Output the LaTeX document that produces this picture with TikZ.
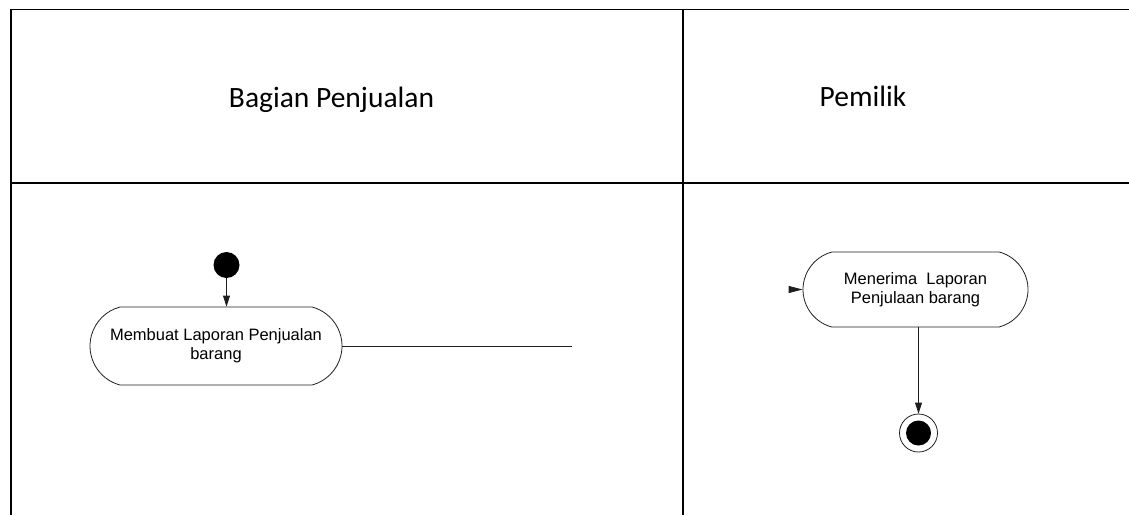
\documentclass[tikz,border=0pt]{standalone}
\usepackage{fontspec}
\usepackage{tikz}
\usetikzlibrary{shapes.misc,arrows.meta}
\newfontfamily\headfont{Carlito}
\newfontfamily\actfont{Liberation Sans}
\definecolor{laneblack}{RGB}{0,0,0}
\definecolor{actgray}{RGB}{30,30,30}

\begin{document}
\begin{tikzpicture}[x=1pt,y=-1pt,
    lane/.style={laneblack, line width=1.1pt},
    lanetitle/.style={anchor=base, font=\headfont\fontsize{29.5}{34}\selectfont},
    activity/.style={rounded rectangle, rounded rectangle arc length=150, draw=actgray,
        line width=0.8pt, align=center, inner sep=0pt,
        font=\actfont\fontsize{16.5}{19}\selectfont},
    flow/.style={actgray, line width=0.8pt, -{Triangle[length=11pt,width=7pt]}}]
    \useasboundingbox (0,0) rectangle (1129,515);

    % Swimlanes with their titles
    \draw[lane] (11,515) -- (11,9.5) -- (1129,9.5);
    \draw[lane] (11,183) -- (1129,183);
    \draw[lane] (683,9.5) -- (683,515);
    \node[lanetitle] (laneSales) at (331.5,107) {Bagian Penjualan};
    \node[lanetitle] (laneOwner) at (863,106) {Pemilik};

    % Bagian Penjualan: start and first activity
    \node[circle, fill=black, minimum size=26pt, inner sep=0pt] (start) at (226.5,265) {};
    \node[activity, minimum width=252pt, minimum height=78pt] (makeReport) at (216,346)
        {Membuat Laporan Penjualan\\barang};
    \coordinate (handover) at (572,346);
    \draw[flow] (start) -- (start |- makeReport.north);
    \draw[actgray, line width=0.8pt] (makeReport.east) -- (handover);

    % Pemilik: receive report and finish
    \node[activity, minimum width=225pt, minimum height=75pt] (receiveReport) at (915.5,289.5)
        {Menerima~~Laporan\\Penjulaan barang};
    \coordinate (incoming) at (789,289.5);
    \node[circle, draw=actgray, line width=0.8pt, minimum size=38pt, inner sep=0pt] (finish) at (918.5,433) {};
    \fill (finish) circle (12.5pt);
    \draw[flow, -{Triangle[length=14pt,width=7pt]}] (incoming) -- (receiveReport.west);
    \draw[flow] (receiveReport.south -| finish) -- (finish);
\end{tikzpicture}
\end{document}
